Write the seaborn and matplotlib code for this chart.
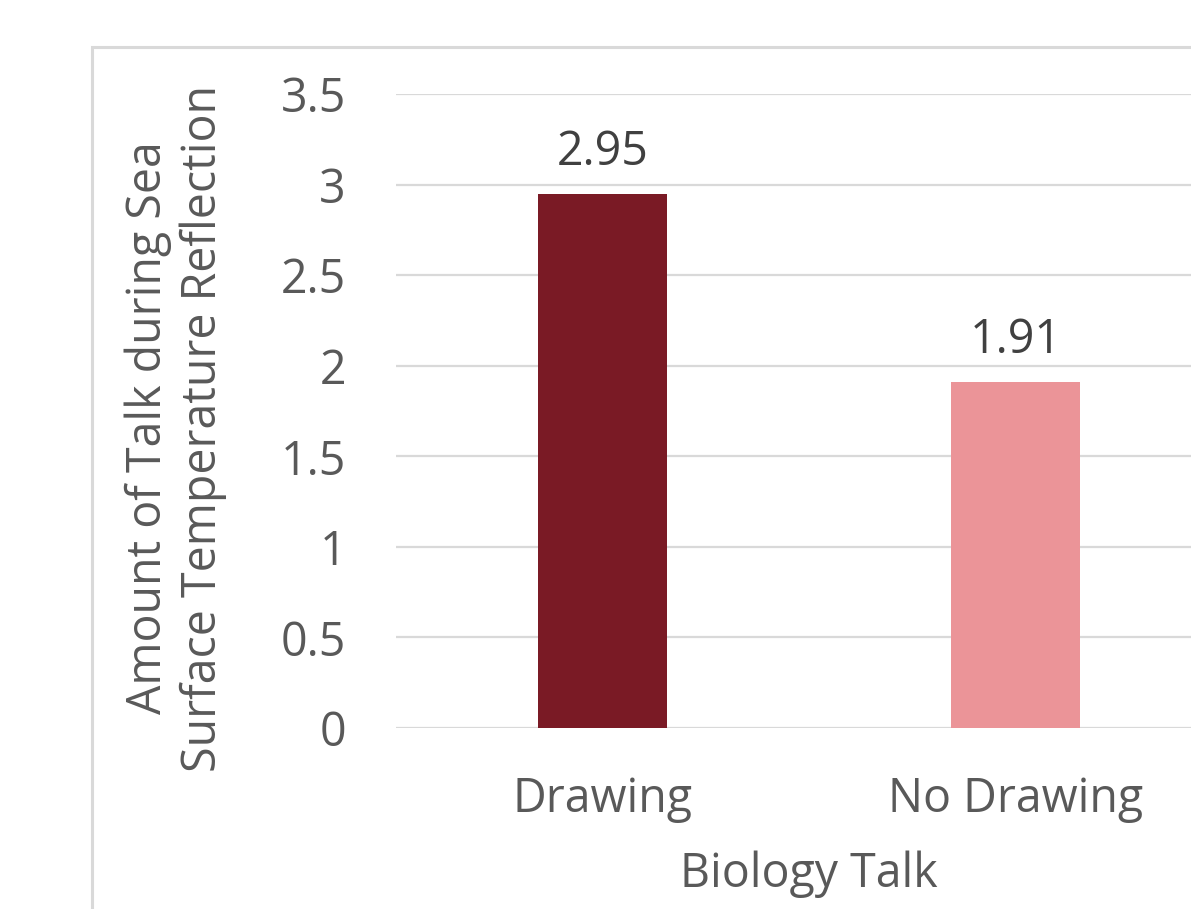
import matplotlib
matplotlib.use("Agg")
import matplotlib.pyplot as plt
from matplotlib.patches import Rectangle
import seaborn as sns
import pandas as pd

# Chart data
categories = ["Drawing", "No Drawing"]
values = [2.95, 1.91]
bar_colors = ["#7A1A25", "#EB9498"]
y_ticks = [0, 0.5, 1, 1.5, 2, 2.5, 3, 3.5]
y_tick_labels = ["0", "0.5", "1", "1.5", "2", "2.5", "3", "3.5"]
x_title = "Biology Talk"
y_title = "Amount of Talk during Sea\nSurface Temperature Reflection"

sns.set_theme(style="white")
plt.rcParams["font.family"] = ["Open Sans", "DejaVu Sans"]

text_color = "#595959"
grid_color = "#D9D9D9"
fs = 33.5

fig = plt.figure(figsize=(11.91, 9.09), dpi=100)
ax = fig.add_axes([396 / 1191, 181 / 909, 826 / 1191, 634 / 909])

df = pd.DataFrame({"category": categories, "value": values})
sns.barplot(data=df, x="category", y="value", hue="category",
            palette=bar_colors, saturation=1, width=0.31, linewidth=0,
            legend=False, ax=ax, zorder=3)

ax.set_xlim(-0.5, 1.5)
ax.set_ylim(0, 3.5)
ax.set_yticks(y_ticks)
ax.set_yticklabels(y_tick_labels)
ax.yaxis.grid(True, color=grid_color, linewidth=1.6, zorder=0)
ax.set_axisbelow(True)
for side in ["left", "right", "top", "bottom"]:
    ax.spines[side].set_visible(False)
ax.axhline(0, color=grid_color, linewidth=2.0, zorder=2)

ax.tick_params(axis="both", length=0, labelsize=fs, labelcolor=text_color)
ax.tick_params(axis="y", pad=36)
ax.tick_params(axis="x", pad=34)

ax.set_xlabel(x_title, fontsize=fs, color=text_color, labelpad=20)
ax.set_ylabel("")

# Two-line vertical axis title
fig.text(176 / 1191, 1 - 428 / 909, y_title, rotation=90, ha="center",
         va="center", fontsize=fs, color=text_color, linespacing=1.2,
         multialignment="center")

# Value labels above each bar
for patch, val in zip(ax.patches, values):
    ax.annotate(f"{val:.2f}",
                (patch.get_x() + patch.get_width() / 2, patch.get_height()),
                xytext=(0, 13), textcoords="offset points",
                ha="center", va="bottom", fontsize=fs, color="#404040")

# Chart area frame
fig.patches.append(Rectangle((92 / 1191, -0.2), 1.0, 0.2 + 862 / 909,
                             transform=fig.transFigure, fill=False,
                             edgecolor="#D9D9D9", linewidth=2.2,
                             clip_on=False))

fig.savefig("out.png", dpi=100, facecolor="white")
